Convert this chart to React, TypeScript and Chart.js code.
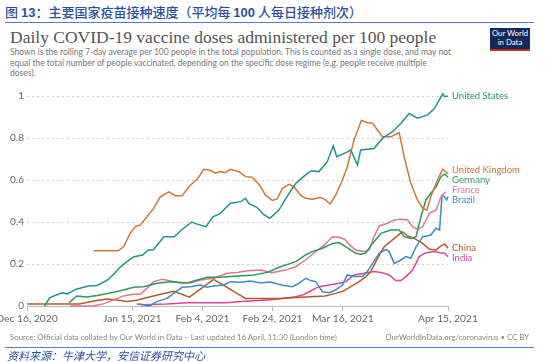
import React, { useEffect, useRef } from "react";
import { Chart, registerables } from "chart.js";

Chart.register(...registerables);

// x = days since Dec 16, 2020
const tickDays = [0, 30, 50, 70, 90, 120];
const tickLabels = ["Dec 16, 2020", "Jan 15, 2021", "Feb 4, 2021", "Feb 24, 2021", "Mar 16, 2021", "Apr 15, 2021"];
const yTicks = [0, 0.2, 0.4, 0.6, 0.8, 1];

const usDays = [5, 6.5, 10, 11.5, 14, 17.5, 20, 23, 25, 26.5, 28.5, 30.5, 33, 34.5, 36, 39, 42, 44, 47, 48.5, 51, 53, 55, 58, 61, 62.3, 63.2, 65.5, 67.5, 69.2, 71.8, 74.7, 76.6, 79.4, 81, 83.2, 85.6, 87.3, 88.3, 90.9, 92.3, 94.2, 95.1, 98.9, 101.3, 104.2, 106.6, 108.9, 111.3, 114.2, 116.1, 118.5, 119.1, 120];
const usVals = [0, 0.04, 0.063, 0.057, 0.08, 0.095, 0.098, 0.124, 0.156, 0.184, 0.211, 0.235, 0.243, 0.267, 0.267, 0.33, 0.33, 0.362, 0.4, 0.39, 0.378, 0.425, 0.44, 0.489, 0.497, 0.513, 0.489, 0.47, 0.435, 0.418, 0.457, 0.536, 0.584, 0.624, 0.644, 0.64, 0.687, 0.762, 0.711, 0.73, 0.743, 0.671, 0.743, 0.75, 0.798, 0.83, 0.87, 0.917, 0.894, 0.91, 0.94, 1.01, 0.997, 1.0];

const ukDays = [19, 26, 27.5, 29.4, 30.9, 32.3, 34.2, 36.1, 38, 40.4, 42.3, 44.2, 46.6, 48.5, 50.4, 52.3, 53.7, 55.1, 56.5, 58, 60.4, 62.3, 64.2, 66.1, 68, 69.9, 71.3, 72.8, 74.7, 76.1, 78, 79.4, 81.3, 83.7, 85.1, 86.4, 88, 89.9, 91.3, 93.2, 95.3, 97, 98.5, 99.9, 101.3, 103.7, 106.1, 107.5, 109.4, 111.3, 112.8, 114, 115.1, 117, 118.5, 120];
const ukVals = [0.263, 0.263, 0.282, 0.346, 0.378, 0.386, 0.425, 0.465, 0.52, 0.544, 0.525, 0.525, 0.576, 0.603, 0.651, 0.645, 0.632, 0.64, 0.635, 0.651, 0.64, 0.616, 0.613, 0.58, 0.528, 0.503, 0.51, 0.56, 0.579, 0.568, 0.528, 0.513, 0.508, 0.517, 0.505, 0.486, 0.528, 0.6, 0.663, 0.79, 0.883, 0.873, 0.87, 0.838, 0.806, 0.806, 0.825, 0.711, 0.584, 0.505, 0.465, 0.457, 0.52, 0.6, 0.651, 0.63];

const deDays = [12, 14.2, 17, 20, 23, 26.6, 30.4, 33.2, 37, 41, 45.6, 48.5, 51.3, 55, 59, 64.7, 68.5, 72.3, 76.6, 79.4, 81.3, 84.2, 87.1, 88.9, 90.9, 93.7, 95.1, 96.5, 98.5, 100.9, 103.7, 106.1, 107.5, 109.4, 110.9, 112.3, 113.7, 115.1, 116.6, 118, 119.1, 120];
const deVals = [0.016, 0.048, 0.043, 0.05, 0.06, 0.073, 0.089, 0.092, 0.108, 0.116, 0.11, 0.124, 0.137, 0.137, 0.142, 0.148, 0.16, 0.187, 0.211, 0.243, 0.259, 0.275, 0.298, 0.302, 0.282, 0.251, 0.246, 0.251, 0.298, 0.346, 0.362, 0.362, 0.33, 0.322, 0.33, 0.425, 0.505, 0.537, 0.568, 0.616, 0.629, 0.613];

const frDays = [12.3, 18.6, 21.8, 24.7, 27.5, 30.4, 32.3, 34.2, 36.1, 38.5, 40.9, 43.7, 46.6, 49.4, 53.2, 57, 59.9, 62.8, 66.6, 69.9, 73.7, 76.6, 79.4, 82.3, 84.7, 87.1, 88.9, 90.5, 92, 93.7, 96.1, 97.5, 98.9, 100.4, 102.8, 104.7, 106.6, 108.5, 109.9, 111.3, 112.8, 114.7, 116.6, 118, 119.4];
const frVals = [0, 0, 0.01, 0.029, 0.048, 0.056, 0.056, 0.084, 0.116, 0.127, 0.119, 0.11, 0.11, 0.124, 0.132, 0.156, 0.16, 0.168, 0.171, 0.159, 0.171, 0.187, 0.219, 0.259, 0.29, 0.33, 0.327, 0.318, 0.29, 0.267, 0.259, 0.267, 0.33, 0.381, 0.394, 0.41, 0.413, 0.41, 0.378, 0.365, 0.378, 0.441, 0.457, 0.52, 0.544];

const brDays = [31.8, 35, 37, 39.9, 41.8, 44.2, 46.6, 49.4, 51.3, 53, 56.1, 58, 60.9, 63.7, 66.6, 69.4, 72.5, 75.6, 77.5, 79.4, 80.9, 82.3, 84.2, 86.1, 88, 89.9, 91.3, 93.2, 95.6, 97, 98.5, 100.4, 102.3, 103.2, 104.7, 106.6, 108, 109.4, 110.9, 112.8, 115.1, 116.6, 117.6, 118.3, 119, 119.6, 120];
const brVals = [0.01, 0, 0.021, 0.036, 0.06, 0.089, 0.092, 0.1, 0.089, 0.095, 0.1, 0.116, 0.113, 0.119, 0.11, 0.114, 0.1, 0.092, 0.108, 0.132, 0.121, 0.116, 0.068, 0.063, 0.076, 0.1, 0.148, 0.14, 0.14, 0.164, 0.203, 0.251, 0.27, 0.259, 0.203, 0.219, 0.235, 0.227, 0.282, 0.33, 0.338, 0.37, 0.362, 0.528, 0.52, 0.505, 0.52];

const cnDays = [0, 15, 19, 22.8, 25.6, 28.5, 31.3, 35.1, 39, 41.8, 46.3, 53.2, 58.9, 62.3, 72, 78, 85, 88, 90, 92.3, 94.7, 96.6, 98, 99.9, 101.8, 104.7, 107, 108.5, 110.4, 112.8, 114.7, 116.6, 118, 119.1, 120];
const cnVals = [0.01, 0.01, 0.024, 0.033, 0.029, 0.021, 0.027, 0.044, 0.06, 0.07, 0.042, 0.127, 0.07, 0.036, 0.036, 0.042, 0.048, 0.06, 0.07, 0.092, 0.116, 0.14, 0.164, 0.227, 0.282, 0.322, 0.354, 0.333, 0.322, 0.298, 0.27, 0.267, 0.286, 0.295, 0.275];

const inDays = [31.3, 33.2, 39.9, 45.6, 51.3, 57, 60.9, 64.7, 68.5, 72.3, 76.6, 78.5, 80.4, 83.2, 86.1, 88.9, 90.9, 93.2, 96.1, 98.9, 100.9, 103.2, 105.1, 106.6, 108, 109.9, 111.8, 113.7, 116.1, 117.6, 119.1, 120];
const inVals = [0.01, 0.006, 0.01, 0.016, 0.016, 0.016, 0.021, 0.025, 0.029, 0.034, 0.044, 0.052, 0.068, 0.092, 0.1, 0.108, 0.116, 0.148, 0.156, 0.164, 0.16, 0.148, 0.121, 0.121, 0.14, 0.171, 0.235, 0.254, 0.259, 0.254, 0.251, 0.235];

const seriesNames = ["United States", "United Kingdom", "Germany", "France", "Brazil", "China", "India"];
const seriesColors = ["#1f9489", "#d07733", "#2e9a5a", "#db7a93", "#3b8cc0", "#b85a28", "#d8449e"];
const seriesDays = [usDays, ukDays, deDays, frDays, brDays, cnDays, inDays];
const seriesVals = [usVals, ukVals, deVals, frVals, brVals, cnVals, inVals];

const endLabels = {
  id: "endLabels",
  afterDatasetsDraw(chart: any) {
    const ctx = chart.ctx;
    const items = chart.data.datasets.map((ds: any, i: number) => {
      const meta = chart.getDatasetMeta(i);
      const last = meta.data[meta.data.length - 1];
      return { y: last.y, text: ds.label, color: ds.borderColor };
    });
    items.sort((a: any, b: any) => a.y - b.y);
    const gap = 10;
    for (let k = 0; k < 200; k++) {
      for (let i = 1; i < items.length; i++) {
        const d = items[i].y - items[i - 1].y;
        if (d < gap) {
          const s = (gap - d) / 2;
          items[i].y += s;
          items[i - 1].y -= s;
        }
      }
    }
    ctx.save();
    ctx.font = "9.5px Lato";
    ctx.textBaseline = "middle";
    ctx.textAlign = "left";
    items.forEach((it: any) => {
      ctx.fillStyle = it.color;
      ctx.fillText(it.text, chart.chartArea.right + 4, it.y);
    });
    ctx.restore();
  },
};

function ChartCanvas() {
  const ref = useRef<HTMLCanvasElement>(null);
  useEffect(() => {
    if (!ref.current) return;
    const datasets = seriesNames.map((name, i) => ({
      label: name,
      data: seriesDays[i].map((d, j) => ({ x: d, y: seriesVals[i][j] })),
      borderColor: seriesColors[i],
      backgroundColor: seriesColors[i],
      borderWidth: 1.5,
      pointRadius: 0,
      tension: 0,
      clip: false as any,
    }));
    const chart = new Chart(ref.current, {
      type: "line",
      data: { datasets },
      plugins: [endLabels],
      options: {
        animation: false,
        responsive: false,
        layout: { padding: { top: 96, right: 102, left: 0, bottom: 0 } },
        plugins: { legend: { display: false }, tooltip: { enabled: false } },
        scales: {
          x: {
            type: "linear",
            min: 0,
            max: 120,
            afterBuildTicks: (s: any) => {
              s.ticks = tickDays.map((v) => ({ value: v }));
            },
            afterFit: (s: any) => {
              s.height = 56;
              s.paddingLeft = 0;
              s.paddingRight = 0;
            },
            ticks: {
              autoSkip: false,
              maxRotation: 0,
              padding: 1,
              color: "#666",
              font: { family: "Lato", size: 10.3 },
              callback: (v: any) => tickLabels[tickDays.indexOf(v)],
            },
            grid: { drawOnChartArea: false, drawTicks: true, tickLength: 5, color: "#bbb" },
            border: { display: true, color: "#bbb" },
          },
          y: {
            min: 0,
            max: 1,
            afterBuildTicks: (s: any) => {
              s.ticks = yTicks.map((v) => ({ value: v }));
            },
            afterFit: (s: any) => {
              s.width = 27;
            },
            ticks: {
              padding: 3,
              color: "#666",
              font: { family: "Lato", size: 10 },
              callback: (v: any) => String(v),
            },
            grid: { color: "#cfcfcf", drawTicks: false, lineWidth: 1 },
            border: { display: false, dash: [2, 3] },
          },
        },
      },
    });
    return () => chart.destroy();
  }, []);
  return <canvas ref={ref} width={550} height={362} style={{ position: "absolute", left: 0, top: 0, width: 550, height: 362 }} />;
}

export default function App() {
  const blue = "#2c50a0";
  return (
    <div style={{ position: "absolute", left: 0, top: 0, width: 550, height: 362, background: "#fff", overflow: "hidden", fontFamily: "Lato" }}>
      <div style={{ position: "absolute", left: 5, top: 3, fontFamily: "'Noto Sans CJK SC'", fontSize: 13, fontWeight: 500, color: blue, whiteSpace: "nowrap", lineHeight: "18px" }}>
        图 <b style={{ fontFamily: "'Liberation Sans'" }}>13</b>：主要国家疫苗接种速度（平均每 <b style={{ fontFamily: "'Liberation Sans'" }}>100</b> 人每日接种剂次）
      </div>
      <div style={{ position: "absolute", left: 5, top: 22, width: 529, height: 1, background: "#5a7cc0" }} />
      <div style={{ position: "absolute", left: 10, top: 27, fontFamily: "'Liberation Serif'", fontSize: 17.5, color: "#555", whiteSpace: "nowrap", lineHeight: "20px" }}>
        Daily COVID-19 vaccine doses administered per 100 people
      </div>
      <div style={{ position: "absolute", left: 10, top: 47, fontSize: 8.5, color: "#777", whiteSpace: "nowrap", lineHeight: "10.5px" }}>
        Shown is the rolling 7-day average per 100 people in the total population. This is counted as a single dose, and may not
        <br />
        equal the total number of people vaccinated, depending on the specific dose regime (e.g. people receive multiple
        <br />
        doses).
      </div>
      <div style={{ position: "absolute", left: 490, top: 28, width: 40, height: 20, background: "#12295a", borderBottom: "2px solid #ce261e", color: "#fff", fontSize: 7.8, lineHeight: "9px", textAlign: "center", paddingTop: 1, boxSizing: "content-box" }}>
        Our World
        <br />
        in Data
      </div>
      <ChartCanvas />
      <div style={{ position: "absolute", left: 10, top: 332, fontSize: 7.8, color: "#888", whiteSpace: "nowrap", lineHeight: "11px" }}>
        Source: Official data collated by Our World in Data – Last updated 16 April, 11:30 (London time)
      </div>
      <div style={{ position: "absolute", right: 21, top: 332, fontSize: 7.8, color: "#888", whiteSpace: "nowrap", lineHeight: "11px" }}>
        OurWorldInData.org/coronavirus • CC BY
      </div>
      <div style={{ position: "absolute", left: 5, top: 347, width: 529, height: 1, background: "#5a7cc0" }} />
      <div style={{ position: "absolute", left: 7, top: 348, fontFamily: "'Noto Sans CJK SC'", fontSize: 11, fontStyle: "italic", color: blue, whiteSpace: "nowrap", lineHeight: "14px" }}>
        资料来源：牛津大学，安信证券研究中心
      </div>
    </div>
  );
}
